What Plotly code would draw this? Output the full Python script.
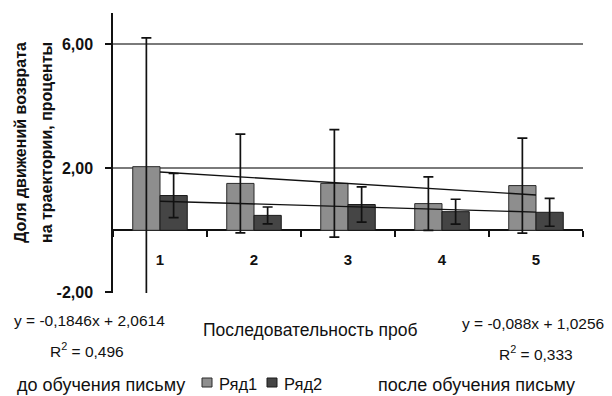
import plotly.graph_objects as go

# Trial numbers (categories) and mean share of return movements, %
trials = [1, 2, 3, 4, 5]
tick_text = ["1", "2", "3", "4", "5"]

series_names = ["Ряд1", "Ряд2"]
before_mean = [2.05, 1.51, 1.51, 0.86, 1.44]   # Ряд1 – до обучения письму
before_err = [4.15, 1.59, 1.73, 0.86, 1.53]
after_mean = [1.12, 0.48, 0.83, 0.60, 0.58]    # Ряд2 – после обучения письму
after_err = [0.71, 0.27, 0.57, 0.40, 0.45]

# Linear trends as printed on the chart
before_trend = {"slope": -0.1846, "intercept": 2.0614, "r2": "0,496"}
after_trend = {"slope": -0.088, "intercept": 1.0256, "r2": "0,333"}

W, H = 612, 396
L, R, T, B = 113, 29, 13, 103
Y_MIN, Y_MAX = -2.02, 7

FONT = "Liberation Sans, Arial"
INK = "#111111"
FILLS = ["#8e8e8e", "#454545"]
EDGES = ["#2a2a2a", "#1a1a1a"]


def px(x, y):
    """Convert page pixels to paper coordinates of the plot area."""
    return (x - L) / (W - L - R), (H - B - y) / (H - T - B)


def trend_line(tr):
    xs = [trials[0], trials[-1]]
    return xs, [tr["slope"] * x + tr["intercept"] for x in xs]


def fmt(v):
    return f"{v}".replace(".", ",")


fig = go.Figure()

for name, mean, err, fill, edge in zip(series_names, [before_mean, after_mean],
                                       [before_err, after_err], FILLS, EDGES):
    fig.add_trace(go.Bar(
        x=trials, y=mean, name=name, showlegend=False,
        marker=dict(color=fill, line=dict(color=edge, width=1)),
        error_y=dict(type="data", array=err, visible=True,
                     color=INK, thickness=1.7, width=5),
    ))

for tr in (before_trend, after_trend):
    xs, ys = trend_line(tr)
    fig.add_trace(go.Scatter(x=xs, y=ys, mode="lines", showlegend=False,
                             line=dict(color=INK, width=1.4),
                             hoverinfo="skip"))

zero_pos = (0 - Y_MIN) / (Y_MAX - Y_MIN)

fig.update_layout(
    width=W, height=H,
    margin=dict(l=L, r=R, t=T, b=B, pad=0, autoexpand=False),
    paper_bgcolor="white", plot_bgcolor="white",
    barmode="group", bargap=0.42, bargroupgap=0,
    showlegend=False,
    # category labels below the zero line
    xaxis=dict(range=[0.5, 5.5], anchor="free", position=zero_pos,
               tickvals=trials, ticktext=tick_text, ticks="", showline=False,
               showgrid=False, zeroline=False, ticklabelstandoff=19,
               tickfont=dict(family=FONT, size=15, color=INK, weight="bold")),
    # category boundary ticks hanging from the zero line
    xaxis2=dict(range=[0.5, 5.5], overlaying="x", anchor="free",
                position=zero_pos, side="bottom",
                tickvals=[t + 0.5 for t in [0] + trials], showticklabels=False,
                ticks="outside", ticklen=6, tickwidth=1.5, tickcolor=INK,
                showline=False, showgrid=False, zeroline=False),
    yaxis=dict(range=[Y_MIN, Y_MAX], tickvals=[-2, 2, 6],
               ticktext=["-2,00", "2,00", "6,00"],
               ticks="outside", ticklen=6, tickwidth=1.5, tickcolor=INK,
               ticklabelstandoff=9,
               showline=True, linecolor=INK, linewidth=1.5,
               showgrid=True, gridcolor="#7a7a7a", gridwidth=1.6,
               zeroline=True, zerolinecolor=INK, zerolinewidth=1.5,
               tickfont=dict(family=FONT, size=16, color=INK, weight="bold")),
)

# empty trace that switches xaxis2 on
fig.add_trace(go.Scatter(x=[1], y=[0], xaxis="x2", mode="none",
                         showlegend=False, hoverinfo="skip"))


def note(text, x, y, size, anchor="center", bold=False, angle=0):
    ax, ay = px(x, y)
    fig.add_annotation(text=text, x=ax, y=ay, xref="paper", yref="paper",
                       xanchor=anchor, yanchor="middle", showarrow=False,
                       textangle=angle,
                       font=dict(family=FONT, size=size, color=INK,
                                 weight="bold" if bold else "normal"))


def equation(tr):
    sign = "+" if tr["intercept"] >= 0 else "-"
    return f"y = {fmt(tr['slope'])}x {sign} {fmt(abs(tr['intercept']))}"


note("Доля движений возврата", 20, 143, 16, bold=True, angle=-90)
note("на траектории, проценты", 46, 143, 16, bold=True, angle=-90)

note(equation(before_trend), 12, 320, 15.5, anchor="left")
note(f"R<sup>2</sup> = {before_trend['r2']}", 87, 350, 15.5)
note("Последовательность проб", 310, 330, 17.5)
note(equation(after_trend), 460, 323, 15.5, anchor="left")
note(f"R<sup>2</sup> = {after_trend['r2']}", 536, 353, 15.5)
note("до обучения письму", 15, 385, 18, anchor="left")
note("после обучения письму", 376, 385, 18, anchor="left")

# Legend: small outlined swatch followed by the series name
legend_x = [202, 267]
for name, fill, edge, lx in zip(series_names, FILLS, EDGES, legend_x):
    x0, y0 = px(lx, 387)
    x1, y1 = px(lx + 10, 378)
    fig.add_shape(type="rect", xref="paper", yref="paper",
                  x0=x0, x1=x1, y0=y0, y1=y1,
                  fillcolor=fill, line=dict(color=edge, width=1))
    note(name, lx + 15, 384, 16.5, anchor="left")

fig.write_html("out.html")
